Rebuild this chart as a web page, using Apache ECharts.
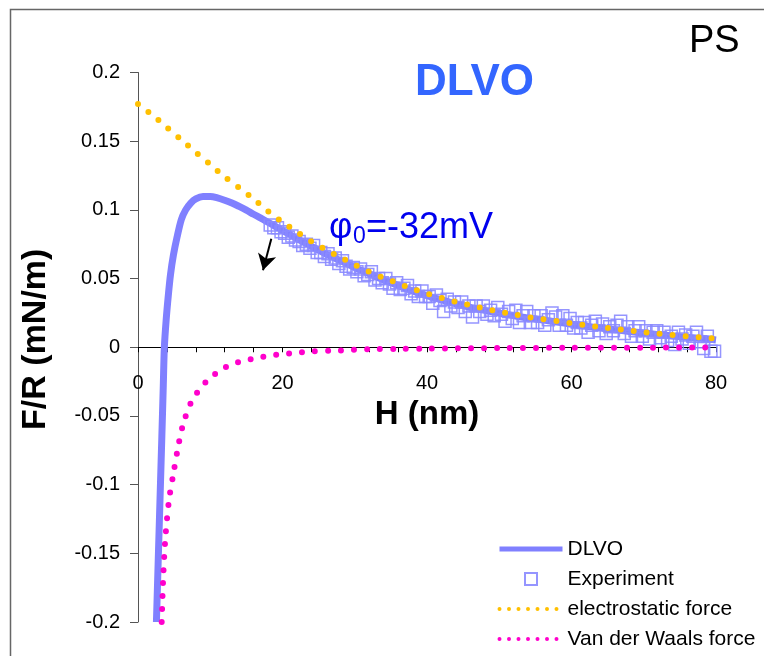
<!DOCTYPE html>
<html>
<head>
<meta charset="utf-8">
<script src="https://cdn.jsdelivr.net/npm/echarts/dist/echarts.min.js"></script>
<style>
html,body{margin:0;padding:0;background:#fff;}
#chart{width:764px;height:656px;}
</style>
</head>
<body>
<div id="chart"></div>
<script>
// DLVO theory curve [H (nm), F/R (mN/m)]
const dlvoData = [
  [2.55,-0.2],[2.8,-0.155],[3.05,-0.11],[3.3,-0.065],[3.5,-0.028],[3.65,0],[3.9,0.02],
  [4.2,0.038],[4.5,0.053],[4.9,0.067],[5.4,0.08],[6,0.093],[6.6,0.1],[7.3,0.105],
  [8,0.108],[9,0.1097],[10,0.1097],[11,0.1087],[12,0.107],[13,0.105],[14,0.1025],
  [15,0.0998],[16,0.0968],[17,0.094],[18,0.091],[19,0.088],[20,0.085],[22,0.079],
  [24,0.0735],[26,0.068],[28,0.063],[30,0.058],[32,0.0535],[34,0.049],[36,0.045],
  [38,0.041],[40,0.0375],[42,0.0345],[44,0.0315],[46,0.029],[48,0.0268],[50,0.0248],
  [52,0.023],[54,0.0213],[56,0.0199],[58,0.0183],[60,0.0168],[62,0.0153],[64,0.014],
  [66,0.0127],[68,0.0115],[70,0.0104],[72,0.0092],[74,0.0082],[76,0.0073],[78,0.0065],[80,0.0053]
];
// electrostatic force
const esData = [
  [0,0.177],[2,0.169],[4,0.16],[6,0.151],[8,0.142],[10,0.133],[12,0.124],[14,0.116],
  [16,0.108],[18,0.099],[20,0.091],[22,0.084],[24,0.077],[26,0.071],[28,0.0655],[30,0.06],
  [32,0.055],[34,0.0505],[36,0.0465],[38,0.0425],[40,0.039],[42,0.036],[44,0.033],
  [46,0.0305],[48,0.028],[50,0.026],[52,0.024],[54,0.022],[56,0.0205],[58,0.019],
  [60,0.0175],[62,0.016],[64,0.0147],[66,0.0134],[68,0.0122],[70,0.011],[72,0.0099],
  [74,0.0089],[76,0.008],[78,0.0071],[80,0.0063]
];
// Van der Waals force
const vdwData = [
  [3.28,-0.2],[3.5,-0.166],[3.8,-0.138],[4.3,-0.111],[4.9,-0.092],[5.5,-0.074],
  [6.25,-0.056],[7.5,-0.0386],[9.6,-0.024],[11.1,-0.018],[12.8,-0.0126],[14.5,-0.0102],
  [16.4,-0.0078],[18.3,-0.006],[20,-0.005],[22,-0.0039],[24,-0.0031],[28,-0.0023],
  [32,-0.0015],[36,-0.0012],[40,-0.001],[50,-0.0006],[60,-0.0004],[70,-0.0003],[80,-0.0002]
];
// Experiment
const expX = [
  18.3,18.8,19.3,19.8,20.3,20.8,21.3,21.8,22.3,22.8,23.3,23.8,24.3,24.8,25.3,25.8,26.3,26.8,
  27.3,27.8,28.3,28.8,29.3,29.8,30.3,30.8,31.3,31.8,32.3,32.8,33.3,33.8,34.3,34.8,35.3,35.8,
  36.3,36.8,37.3,37.8,38.3,38.8,39.3,39.8,40.3,40.8,41.3,41.8,42.3,42.8,43.3,43.8,44.3,44.8,
  45.3,45.8,46.3,46.8,47.3,47.8,48.3,48.8,49.3,49.8,50.3,50.8,51.3,51.8,52.3,52.8,53.3,53.8,
  54.3,54.8,55.3,55.8,56.3,56.8,57.3,57.8,58.3,58.8,59.3,59.8,60.3,60.8,61.3,61.8,62.3,62.8,
  63.3,63.8,64.3,64.8,65.3,65.8,66.3,66.8,67.3,67.8,68.3,68.8,69.3,69.8,70.3,70.8,71.3,71.8,
  72.3,72.8,73.3,73.8,74.3,74.8,75.3,75.8,76.3,76.8,77.3,77.8,78.3,78.8,79.3,79.8
];
const expY = [
  0.089,0.087,0.087,0.084,0.083,0.080,0.081,0.078,0.077,0.074,0.075,0.072,0.074,0.069,0.069,0.066,0.068,0.064,
  0.065,0.061,0.063,0.059,0.057,0.058,0.055,0.057,0.052,0.053,0.055,0.049,0.050,0.047,0.050,0.046,0.043,0.047,
  0.042,0.043,0.045,0.039,0.041,0.037,0.041,0.037,0.037,0.032,0.038,0.034,0.026,0.035,0.030,0.033,0.029,0.033,
  0.026,0.030,0.022,0.030,0.026,0.030,0.024,0.027,0.023,0.029,0.024,0.019,0.026,0.021,0.027,0.018,0.023,0.026,
  0.018,0.023,0.018,0.023,0.016,0.020,0.025,0.022,0.016,0.023,0.016,0.021,0.014,0.018,0.014,0.018,0.011,0.016,
  0.019,0.012,0.017,0.010,0.015,0.012,0.016,0.019,0.010,0.015,0.008,0.012,0.015,0.008,0.012,0.006,0.011,0.012,
  0.007,0.011,0.005,0.008,0.002,0.011,0.006,0.009,0.003,0.008,0.011,0.004,-0.001,0.008,-0.003,-0.003
];
// arrow annotation from -> to
const arrowFrom = [18.45, 0.079];
const arrowTo = [17.3, 0.056];
const xTicks = [0, 20, 40, 60, 80];

const expData = expX.map((x, i) => [x, expY[i]]);
const font = '"Liberation Sans", Arial, sans-serif';
const chart = echarts.init(document.getElementById('chart'), null, {renderer: 'canvas'});

const gridTop = 72.5, gridBottom = 34, chartH = 656;
const zeroOffset = -(chartH - gridTop - gridBottom) / 2;
const hideSym = {opacity: 0};

chart.setOption({
  animation: false,
  backgroundColor: '#fff',
  title: [
    {text: 'DLVO', left: 415, top: 61, padding: 0,
     textStyle: {fontFamily: font, fontSize: 44, fontWeight: 'bold', color: '#3366ff'}},
    {text: 'PS', left: 689, top: 23, padding: 0,
     textStyle: {fontFamily: font, fontSize: 38, fontWeight: 'normal', color: '#000'}}
  ],
  grid: {left: 138, right: 48, top: gridTop, bottom: gridBottom, containLabel: false, outerBoundsMode: 'none'},
  legend: {
    orient: 'vertical', left: 497, top: 538, padding: 0,
    itemWidth: 63, itemHeight: 12, itemGap: 8,
    textStyle: {fontFamily: font, fontSize: 21, color: '#000', lineHeight: 22},
    data: [
      {name: 'DLVO', lineStyle: {width: 5}, itemStyle: hideSym},
      {name: 'Experiment', icon: 'path://M0,0L10,0L10,10L0,10Z'},
      {name: 'electrostatic force', lineStyle: {width: 4, type: [0, 9.5], cap: 'round'}, itemStyle: hideSym},
      {name: 'Van der Waals force', lineStyle: {width: 4, type: [0, 9.5], cap: 'round'}, itemStyle: hideSym}
    ]
  },
  xAxis: {
    type: 'value', min: 0, max: 80, interval: 4,
    name: 'H (nm)', nameLocation: 'middle', nameGap: 31,
    nameTextStyle: {fontFamily: font, fontSize: 33, fontWeight: 'bold', color: '#000'},
    offset: zeroOffset,
    axisLine: {onZero: false, lineStyle: {color: '#000', width: 1}},
    axisTick: {show: true, length: 5, lineStyle: {color: '#000'}},
    axisLabel: {fontFamily: font, fontSize: 20, color: '#000', margin: 26,
      formatter: v => (xTicks.indexOf(v) >= 0 ? String(v) : '')},
    splitLine: {show: false}
  },
  yAxis: {
    type: 'value', min: -0.2, max: 0.2, interval: 0.05,
    name: 'F/R (mN/m)', nameLocation: 'middle', nameGap: 85, nameRotate: 90,
    nameTextStyle: {fontFamily: font, fontSize: 34, fontWeight: 'bold', color: '#000', padding: [0, 0, 0, 16]},
    axisLine: {show: true, lineStyle: {color: '#555', width: 1}},
    axisTick: {show: true, length: 8, lineStyle: {color: '#555'}},
    axisLabel: {fontFamily: font, fontSize: 20, color: '#000', margin: 18},
    splitLine: {show: false}
  },
  series: [
    {
      name: 'DLVO', type: 'line', data: dlvoData, symbol: 'none', smooth: 0.3,
      lineStyle: {color: '#8080ff', width: 7}, itemStyle: {color: '#8080ff'}, z: 2,
      markLine: {
        silent: true, symbol: ['none', 'arrow'], symbolSize: [14, 16],
        label: {show: false},
        lineStyle: {color: '#000', width: 2, type: 'solid'},
        data: [[{coord: arrowFrom}, {coord: arrowTo}]]
      }
    },
    {
      name: 'Experiment', type: 'scatter', data: expData, symbol: 'rect', symbolSize: 12,
      itemStyle: {color: 'rgba(0,0,0,0)', borderColor: '#8a8aff', borderWidth: 1.5, opacity: 0.9}, z: 3
    },
    {
      name: 'electrostatic force', type: 'line', data: esData, symbol: 'none', smooth: 0.3,
      lineStyle: {color: '#ffc000', width: 6, type: [0, 13], cap: 'round'},
      itemStyle: {color: '#ffc000'}, z: 4
    },
    {
      name: 'Van der Waals force', type: 'line', data: vdwData, symbol: 'none', smooth: 0.3,
      lineStyle: {color: '#ff00cc', width: 6, type: [0, 13], cap: 'round'},
      itemStyle: {color: '#ff00cc'}, z: 4
    }
  ],
  graphic: [
    {type: 'rect', left: 8, top: 7, silent: true, z: 100,
     shape: {width: 800, height: 700},
     style: {fill: 'none', stroke: '#666', lineWidth: 1.5}},
    {type: 'text', x: 329, y: 228, silent: true, z: 100,
     style: {text: 'φ', fontFamily: font, fontSize: 36, fill: '#0000ee', verticalAlign: 'middle'}},
    {type: 'text', x: 353, y: 237, silent: true, z: 100,
     style: {text: '0', fontFamily: font, fontSize: 23, fill: '#0000ee', verticalAlign: 'middle'}},
    {type: 'text', x: 366, y: 228, silent: true, z: 100,
     style: {text: '=-32mV', fontFamily: font, fontSize: 36, fill: '#0000ee', verticalAlign: 'middle'}}
  ]
});
</script>
</body>
</html>
